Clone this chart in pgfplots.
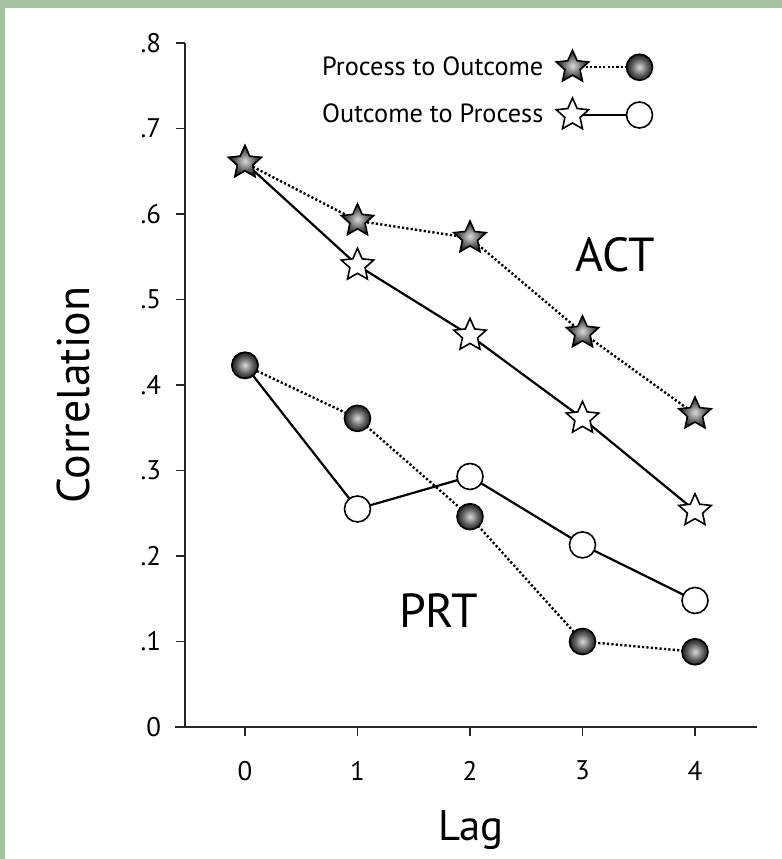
\documentclass[border=0pt]{standalone}
\usepackage{pgfplots}
\pgfplotsset{compat=1.18}
\usepackage{fontspec}
\setmainfont{PT Sans}
\definecolor{frame}{RGB}{167,191,164}

% grey ball-like shading used for the filled markers
\pgfdeclareradialshading{markball}{\pgfpointorigin}{%
  color(0bp)=(black!15); color(5bp)=(black!30); color(15bp)=(black!62);
  color(25bp)=(black!88); color(50bp)=(black!88)}

\newdimen\starin
\def\starpath{%
  \starin=0.47\pgfplotmarksize
  \pgfpathmoveto{\pgfqpointpolar{90}{\pgfplotmarksize}}%
  \pgfpathlineto{\pgfqpointpolar{126}{\starin}}%
  \pgfpathlineto{\pgfqpointpolar{162}{\pgfplotmarksize}}%
  \pgfpathlineto{\pgfqpointpolar{198}{\starin}}%
  \pgfpathlineto{\pgfqpointpolar{234}{\pgfplotmarksize}}%
  \pgfpathlineto{\pgfqpointpolar{270}{\starin}}%
  \pgfpathlineto{\pgfqpointpolar{306}{\pgfplotmarksize}}%
  \pgfpathlineto{\pgfqpointpolar{342}{\starin}}%
  \pgfpathlineto{\pgfqpointpolar{18}{\pgfplotmarksize}}%
  \pgfpathlineto{\pgfqpointpolar{54}{\starin}}%
  \pgfpathclose}
\pgfdeclareplotmark{ostar}{\starpath\pgfusepathqfillstroke}
\pgfdeclareplotmark{sstar}{\starpath\pgfshadepath{markball}{0}\pgfusepathqstroke}
\pgfdeclareplotmark{sball}{\pgfpathcircle{\pgfpointorigin}{\pgfplotmarksize}%
  \pgfshadepath{markball}{0}\pgfusepathqstroke}

\pgfplotsset{
  dotline/.style={black, line width=1.2bp, dash pattern=on 1.1bp off 1.1bp},
  solline/.style={black, line width=1.1bp},
}

\begin{document}
\begin{tikzpicture}
\fill[frame] (0bp,0bp) rectangle (391bp,429.5bp);
\fill[white] (2.5bp,0bp) rectangle (391bp,425.5bp);
\path[use as bounding box] (0bp,0bp) rectangle (391bp,429.5bp);
\begin{axis}[
  at={(92.5bp,66bp)}, anchor=south west,
  scale only axis, width=286bp, height=342bp,
  xmin=-0.533, xmax=4.551, ymin=0, ymax=0.8,
  clip=false,
  axis x line=bottom, axis y line=left,
  axis line style={-, line width=0.9bp, black!85},
  xtick={0,1,2,3,4}, xticklabels={0,1,2,3,4},
  ytick={0,0.1,0.2,0.3,0.4,0.5,0.6,0.7,0.8},
  yticklabels={0,.1,.2,.3,.4,.5,.6,.7,.8},
  tick style={line width=0.9bp, black!85},
  major tick length=4.5bp, tick align=outside,
  /pgf/number format/assume math mode=true,
  ticklabel style={font=\fontsize{13.5}{16}\selectfont},
  yticklabel style={xshift=-4bp},
  xticklabel style={yshift=-9bp},
  xlabel={Lag}, ylabel={Correlation},
  every axis x label/.style={at={(axis description cs:0.5,0)}, anchor=center,
    yshift=-51.5bp, font=\fontsize{21.5}{26}\selectfont},
  every axis y label/.style={at={(axis description cs:0,0.485)}, anchor=center,
    xshift=-56bp, rotate=90, font=\fontsize{23}{27}\selectfont},
  legend style={at={(0.818,0.99)}, anchor=north east, draw=none, fill=none,
    inner sep=0pt, row sep=8.5bp, font=\fontsize{13.2}{16}\selectfont,
    nodes={inner xsep=2.5bp, inner ysep=0pt}},
  legend plot pos=right, legend cell align=right,
]
\addlegendimage{legend image code/.code={
  \draw[line width=1.2bp, dash pattern=on 1.1bp off 1.1bp] (0bp,0bp) -- (33.5bp,0bp);
  \begin{pgfscope}\pgfsetlinewidth{0.8bp}\pgfsetstrokecolor{black}
    \pgfsetplotmarksize{6.5bp}\pgftransformshift{\pgfqpoint{33.5bp}{0bp}}\pgfuseplotmark{sball}
  \end{pgfscope}
  \begin{pgfscope}\pgfsetlinewidth{0.8bp}\pgfsetstrokecolor{black}
    \pgfsetplotmarksize{8.5bp}\pgfuseplotmark{sstar}
  \end{pgfscope}}}
\addlegendentry{Process to Outcome\kern4bp}
\addlegendimage{legend image code/.code={
  \draw[line width=1.1bp] (0bp,0bp) -- (33.5bp,0bp);
  \begin{pgfscope}\pgfsetlinewidth{0.8bp}\pgfsetstrokecolor{black}\pgfsetfillcolor{white}
    \pgfsetplotmarksize{6.5bp}\pgftransformshift{\pgfqpoint{33.5bp}{0bp}}\pgfuseplotmark{*}
  \end{pgfscope}
  \begin{pgfscope}\pgfsetlinewidth{0.8bp}\pgfsetstrokecolor{black}\pgfsetfillcolor{white}
    \pgfsetplotmarksize{8.5bp}\pgfuseplotmark{ostar}
  \end{pgfscope}}}
\addlegendentry{Outcome to Process\kern4bp}

% Outcome to Process (open markers, solid lines)
\addplot[solline, mark=ostar, mark size=8.5bp,
  mark options={fill=white, draw=black, line width=0.8bp}, forget plot]
  coordinates {(0,0.660) (1,0.540) (2,0.458) (3,0.361) (4,0.253)};
\addplot[solline, mark=*, mark size=6.5bp,
  mark options={fill=white, draw=black, line width=0.8bp}, forget plot]
  coordinates {(0,0.423) (1,0.255) (2,0.293) (3,0.213) (4,0.148)};

% Process to Outcome (shaded markers, dotted lines)
\addplot[dotline, mark=sstar, mark size=8.5bp,
  mark options={solid, draw=black, line width=0.8bp}, forget plot]
  coordinates {(0,0.660) (1,0.592) (2,0.572) (3,0.461) (4,0.366)};
\addplot[dotline, mark=sball, mark size=6.5bp,
  mark options={solid, draw=black, line width=0.8bp}, forget plot]
  coordinates {(0,0.423) (1,0.361) (2,0.246) (3,0.100) (4,0.088)};

\draw[line width=0.9bp, black!85] (rel axis cs:0,0) -- ++(-5bp,0pt);
\node[font=\fontsize{24}{29}\selectfont] at (axis cs:3.29,0.552) {ACT};
\node[font=\fontsize{24}{29}\selectfont] at (axis cs:1.72,0.136) {PRT};
\end{axis}
\end{tikzpicture}
\end{document}
